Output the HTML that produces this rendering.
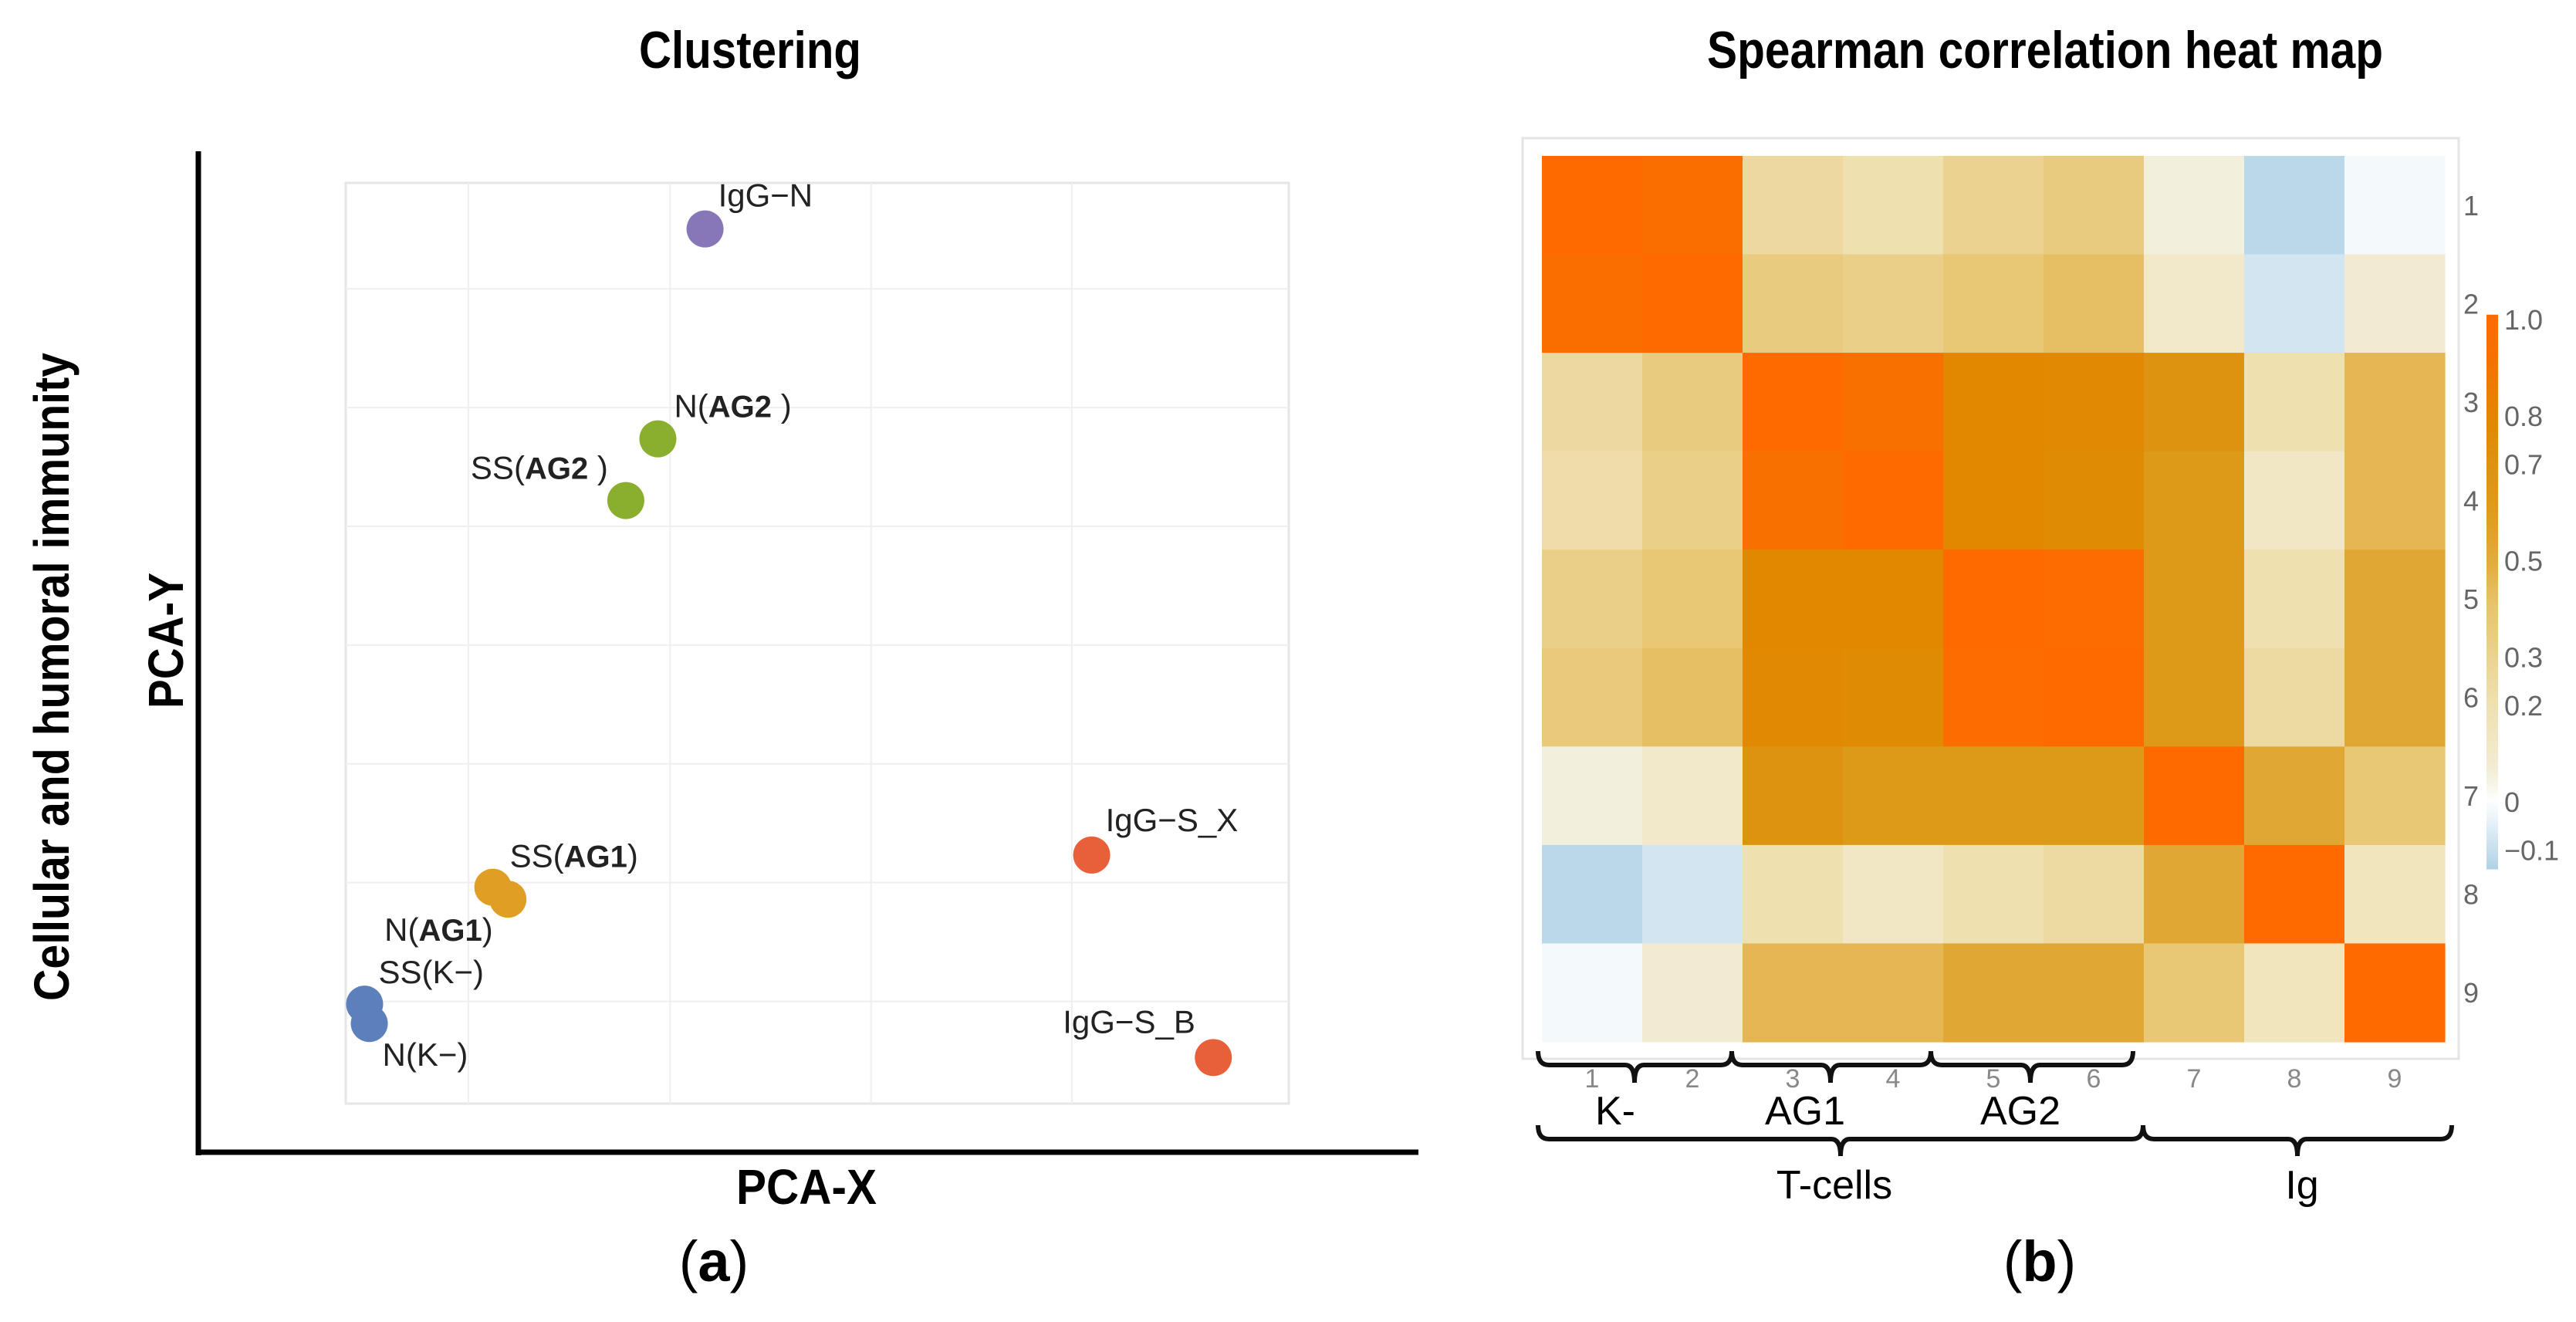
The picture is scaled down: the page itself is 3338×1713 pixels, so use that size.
<!DOCTYPE html>
<html><head><meta charset="utf-8"><style>
html,body{margin:0;padding:0;background:#fff;}
svg{display:block;}
text{font-family:"Liberation Sans",Arial,sans-serif;}
</style></head><body>
<svg id="fig" width="3338" height="1713" viewBox="0 0 3338 1713" xmlns="http://www.w3.org/2000/svg">
<g id="left"></g>
<g id="right"></g>
</svg>
<script>
// ---------- Scatter data ----------
const pointLabels = ["IgG−N","N(|AG2| )","SS(|AG2| )","SS(|AG1|)","N(|AG1|)","SS(K−)","N(K−)","IgG−S_X","IgG−S_B"];
const pointX = [38.1,33.1,29.7,15.6,17.2,2.0,2.5,79.1,92.0];
const pointY = [95.0,72.2,65.5,23.5,22.2,10.8,8.7,27.0,5.0];
const pointGroup = ["igg-n","ag2","ag2","ag1","ag1","k","k","igg-s","igg-s"];
const gridX = [13,34.4,55.7,77];
const gridY = [11.1,24,36.9,49.8,62.7,75.6,88.5];
// ---------- Heatmap data ----------
const hmRows = ["1","2","3","4","5","6","7","8","9"];
const hmCols = ["1","2","3","4","5","6","7","8","9"];
const hmValues = [
 [1,.95,.25,.2,.3,.35,.05,-.12,-.02],
 [.95,1,.35,.32,.38,.42,.1,-.08,.08],
 [.25,.35,1,.92,.78,.77,.7,.2,.45],
 [.22,.32,.92,1,.78,.76,.62,.12,.45],
 [.32,.38,.78,.78,1,.97,.62,.2,.52],
 [.36,.42,.77,.76,.97,1,.62,.24,.52],
 [.05,.1,.7,.62,.62,.62,1,.52,.38],
 [-.12,-.08,.2,.12,.2,.24,.52,1,.15],
 [-.02,.08,.45,.45,.52,.52,.38,.15,1]
];
const cbTicks = [1.0,0.8,0.7,0.5,0.3,0.2,0,-0.1];
const cbTickLabels = ["1.0","0.8","0.7","0.5","0.3","0.2","0","−0.1"];

const NS="http://www.w3.org/2000/svg";
function mk(parent,tag,attrs,text){const e=document.createElementNS(NS,tag);for(const k in attrs)e.setAttribute(k,attrs[k]);if(text!==undefined)e.textContent=text;parent.appendChild(e);return e;}

// ---------- Left panel ----------
const L=document.getElementById('left');
const px0=448,px1=1670,py0=1430,py1=237;
const xS=v=>px0+(v/100)*(px1-px0);
const yS=v=>py0-(v/100)*(py0-py1);
let t;
t=mk(L,'text',{x:972,y:88,'text-anchor':'middle','font-size':68,'font-weight':'bold',textLength:288,lengthAdjust:'spacingAndGlyphs'},'Clustering');

let r=mk(L,'rect',{x:px0,y:py1,width:px1-px0,height:py0-py1,fill:'#fff',stroke:'#e6e6e6','stroke-width':3});

gridX.forEach(v=>{const l=mk(L,'line',{x1:xS(v),x2:xS(v),y1:py1,y2:py0,stroke:'#efefef','stroke-width':2});
 });
gridY.forEach(v=>{const l=mk(L,'line',{x1:px0,x2:px1,y1:yS(v),y2:yS(v),stroke:'#efefef','stroke-width':2});
 });
let ax=mk(L,'line',{x1:257,x2:257,y1:196,y2:1497,stroke:'#000','stroke-width':7});

ax=mk(L,'line',{x1:254,x2:1838,y1:1493,y2:1493,stroke:'#000','stroke-width':7});

const colors={"igg-n":"#8877b8","ag2":"#8aaf2e","ag1":"#e09e25","k":"#5b80bb","igg-s":"#e8603a"};
const lblDX=[17,21,-201,22,-160,18,17,18,-195];
const lblDY=[-29,-28,-28,-26,54,-27,55,-31,-32];
pointX.forEach((v,i)=>{
 const c=mk(L,'circle',{cx:xS(v),cy:yS(pointY[i]),r:24,fill:colors[pointGroup[i]]});
 
 
});
pointLabels.forEach((s,i)=>{
 const tt=mk(L,'text',{x:xS(pointX[i])+lblDX[i],y:yS(pointY[i])+lblDY[i],'font-size':42,fill:'#222'});
 s.split('|').forEach((part,k)=>{const sp=mk(tt,'tspan',k===1?{'font-weight':'bold','font-size':40}:{},part);});
 
 
});
t=mk(L,'text',{x:1045,y:1560,'text-anchor':'middle','font-size':64,'font-weight':'bold',textLength:182,lengthAdjust:'spacingAndGlyphs'},'PCA-X');

t=mk(L,'text',{x:0,y:0,'text-anchor':'middle','font-size':64,'font-weight':'bold',textLength:176,lengthAdjust:'spacingAndGlyphs',transform:'translate(237,830) rotate(-90)'},'PCA-Y');

t=mk(L,'text',{x:0,y:0,'text-anchor':'middle','font-size':64,'font-weight':'bold',textLength:840,lengthAdjust:'spacingAndGlyphs',transform:'translate(89,877) rotate(-90)'},'Cellular and humoral immunity');

t=mk(L,'text',{x:925,y:1660,'text-anchor':'middle','font-size':74,'font-family':'"Liberation Serif",serif'},'');
t.innerHTML='(<tspan font-weight="bold">a</tspan>)';


// ---------- Right panel ----------
const R=document.getElementById('right');
const hx0=1998,hx1=3168,hy0=202,hy1=1350;
const cw=(hx1-hx0)/hmCols.length, ch=(hy1-hy0)/hmRows.length;
const stops=[[-0.14,[176,210,230]],[0,[255,255,255]],[0.05,[243,239,221]],[0.1,[241,233,201]],[0.2,[239,224,176]],[0.3,[235,210,144]],[0.4,[231,196,110]],[0.5,[226,170,58]],[0.6,[221,156,26]],[0.7,[221,146,16]],[0.78,[225,136,0]],[0.92,[247,112,0]],[1.0,[255,106,0]]];
function col(v){if(v<=stops[0][0])return 'rgb('+stops[0][1]+')';
 for(let i=1;i<stops.length;i++){if(v<=stops[i][0]){const a=stops[i-1],b=stops[i],f=(v-a[0])/(b[0]-a[0]);
 return 'rgb('+a[1].map((c,k)=>Math.round(c+(b[1][k]-c)*f)).join(',')+')';}}
 return 'rgb('+stops[stops.length-1][1]+')';}
t=mk(R,'text',{x:2650,y:88,'text-anchor':'middle','font-size':68,'font-weight':'bold',textLength:876,lengthAdjust:'spacingAndGlyphs'},'Spearman correlation heat map');

r=mk(R,'rect',{x:1973,y:179,width:1213,height:1193,fill:'#fff',stroke:'#e4e4e4','stroke-width':3});

hmValues.forEach((row,i)=>row.forEach((v,j)=>{
 const c=mk(R,'rect',{x:hx0+j*cw,y:hy0+i*ch,width:cw+0.6,height:ch+0.6,fill:col(v)});
 
 
}));
hmRows.forEach((s,i)=>{const tt=mk(R,'text',{x:3192,y:hy0+(i+0.5)*ch+13,'font-size':36,fill:'#666'},s);
 
 });
hmCols.forEach((s,j)=>{const tt=mk(R,'text',{x:hx0+(j+0.5)*cw,y:1409,'text-anchor':'middle','font-size':34,fill:'#888'},s);
 
 });
const cbTop=414, cbUnit=625, cbX=3222, cbW=15;
const cbY=v=>cbTop+(1-v)*cbUnit;
const defs=mk(R,'defs',{});
const g=mk(defs,'linearGradient',{id:'cbg',x1:0,y1:1,x2:0,y2:0});
for(let k=0;k<=40;k++){const v=-0.14+k*(1.14/40);mk(g,'stop',{offset:(k/40),'stop-color':col(v)});}
r=mk(R,'rect',{x:cbX,y:cbY(1.01),width:cbW,height:cbY(-0.14)-cbY(1.01),fill:'url(#cbg)'});

cbTicks.forEach((v,i)=>{const tt=mk(R,'text',{x:3245,y:cbY(v)+13,'font-size':36,fill:'#666'},cbTickLabels[i]);
 
 });
function brace(x1,x2,xm,yt,yh,yp,name){const d=`M${x1},${yt} Q${x1},${yh} ${x1+14},${yh} L${xm-12},${yh} Q${xm},${yh} ${xm},${yp} Q${xm},${yh} ${xm+12},${yh} L${x2-14},${yh} Q${x2},${yh} ${x2},${yt}`;
 const p=mk(R,'path',{d:d,fill:'none',stroke:'#111','stroke-width':6});
 }
brace(1993,2244,2118,1362,1380,1403,'brace-k');
brace(2244,2502,2372,1362,1380,1403,'brace-ag1');
brace(2502,2764,2631,1362,1380,1403,'brace-ag2');
brace(1993,2777,2385,1458,1476,1498,'brace-t-cells');
brace(2777,3177,2977,1458,1476,1498,'brace-ig');
[["K-",2093,1457,"group-label-k"],["AG1",2339,1457,"group-label-ag1"],["AG2",2618,1457,"group-label-ag2"],["T-cells",2377,1553,"group-label-t-cells"],["Ig",2983,1553,"group-label-ig"]].forEach(a=>{
 const tt=mk(R,'text',{x:a[1],y:a[2],'text-anchor':'middle','font-size':52},a[0]);
 
 });
t=mk(R,'text',{x:2643,y:1660,'text-anchor':'middle','font-size':74,'font-family':'"Liberation Serif",serif'},'');
t.innerHTML='(<tspan font-weight="bold">b</tspan>)';

</script>
</body></html>
